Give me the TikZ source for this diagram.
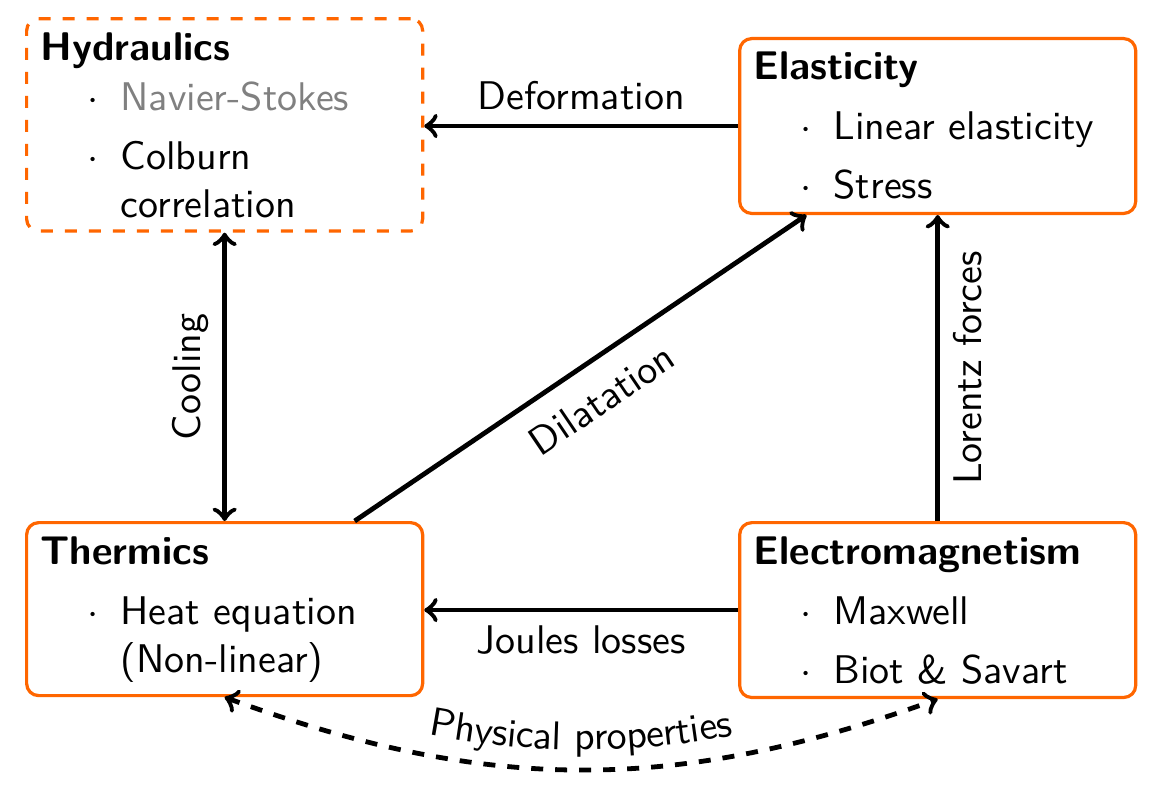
\documentclass[tikz,border=0pt]{standalone}
\usepackage{enumitem}
\usetikzlibrary{decorations.text}
\renewcommand{\familydefault}{\sfdefault}
\definecolor{boxorange}{RGB}{255,102,0}
\newcommand{\physlist}[2][3pt]{\begin{itemize}[label=$\cdot$,leftmargin=20pt,labelsep=5.5pt,topsep=#1,partopsep=0pt,itemsep=2.75pt,parsep=0pt]#2\end{itemize}}

\begin{document}
\begin{tikzpicture}[physbox/.style={draw=boxorange,thick,rounded corners=3pt,text width=92pt,inner xsep=3.5pt,inner ysep=3.4pt,align=left,anchor=north west},
                    conn/.style={->,very thick}]
                                \useasboundingbox(0,0)rectangle(10.28,-6.96);
                                \node[physbox,dashed](hydraulics)at(0.22,-0.15){\textbf{Hydraulics}\physlist[0.5pt]{\item\textcolor{gray}{Navier-Stokes}\item Colburn correlation}};
                                \node[physbox](elasticity)at(6.485,-0.325){\textbf{Elasticity}\physlist{\item Linear elasticity\item Stress}};
                                \node[physbox](thermics)at(0.22,-4.578){\textbf{Thermics}\physlist{\item Heat equation (Non-linear)}};
                                \node[physbox](electro)at(6.485,-4.578){\textbf{Electromagnetism}\physlist{\item Maxwell\item Biot \& Savart}};
                                \draw[conn](elasticity.west)--(elasticity.west-|hydraulics.east)node[midway,above]{Deformation};
                                \draw[conn](electro.west)--(electro.west-|thermics.east)node[midway,below]{Joules losses};
                                \draw[conn,<->](hydraulics.south)--(hydraulics.south|-thermics.north)node[midway,rotate=90,above]{Cooling};
                                \draw[conn](thermics)--(elasticity)node[midway,sloped,below=2pt]{Dilatation};
                                \draw[conn](electro.north)--(elasticity.south)node[midway,rotate=90,below]{Lorentz forces};
                                \draw[conn,<->,dashed](thermics.south)to[bend right=20](electro.south);
                                \path[decorate,decoration={text along path,text={Physical properties},text align=center,raise=5pt}](thermics.south)to[bend right=20](electro.south);
                            \end{tikzpicture}
\end{document}
